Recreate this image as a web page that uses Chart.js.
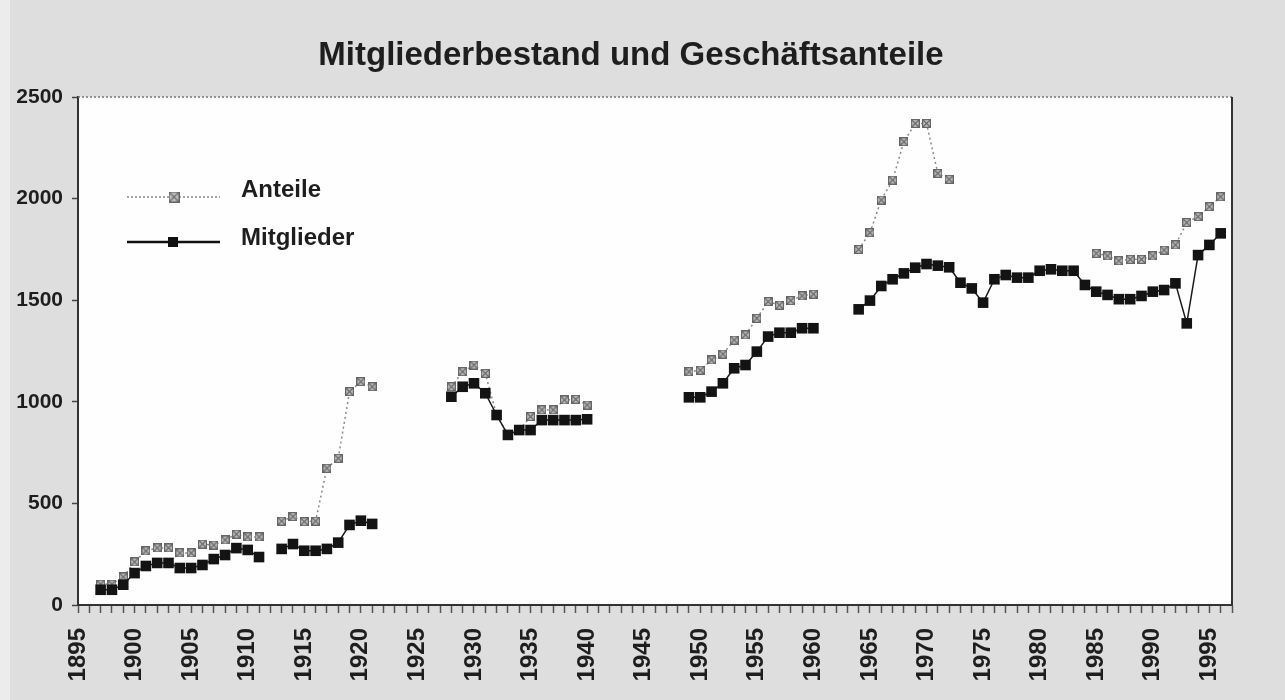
<!DOCTYPE html>
<html lang="de">
<head>
<meta charset="utf-8">
<title>Mitgliederbestand und Geschäftsanteile</title>
<script src="https://cdn.jsdelivr.net/npm/chart.js@4.4.1/dist/chart.umd.min.js"></script>
<style>
  html, body { margin: 0; padding: 0; background: #dedede; }
  #chart { display: block; }
</style>
</head>
<body>
<canvas id="chart" width="1285" height="700"></canvas>
<script>
// Jahre 1897 .. 1996 (null = keine Angabe)
const jahre = [];
for (let j = 1897; j <= 1996; j++) jahre.push(j);

const anteile = [
  103, 103, 138,                                            // 1897-1899
  212, 266, 281, 281, 256, 256, 300, 295, 320, 349,         // 1900-1909
  335, 335, null, 413, 435, 410, 413, 673, 722, 1050,       // 1910-1919
  1099, 1074, null, null, null, null, null, null, 1074, 1148, // 1920-1929
  1181, 1140, 935, 837, 861, 927, 960, 960, 1009, 1012,     // 1930-1939
  984, null, null, null, null, null, null, null, null, 1148, // 1940-1949
  1156, 1206, 1235, 1304, 1329, 1411, 1493, 1476, 1498, 1521, // 1950-1959
  1530, null, null, null, 1750, 1832, 1993, 2091, 2280, 2370, // 1960-1969
  2370, 2124, 2095, null, null, null, null, null, null, null, // 1970-1979
  null, null, null, null, null, 1731, 1718, 1694, 1701, 1701, // 1980-1989
  1718, 1747, 1772, 1882, 1911, 1960, 2009                  // 1990-1996
];

const mitglieder = [
  75, 75, 100,                                              // 1897-1899
  157, 192, 207, 207, 182, 182, 197, 226, 246, 280,         // 1900-1909
  271, 236, null, 276, 300, 267, 267, 276, 307, 394,        // 1910-1919
  415, 399, null, null, null, null, null, null, 1025, 1074, // 1920-1929
  1091, 1042, 935, 837, 861, 861, 910, 910, 910, 910,       // 1930-1939
  914, null, null, null, null, null, null, null, null, 1022, // 1940-1949
  1022, 1050, 1091, 1165, 1181, 1247, 1321, 1340, 1340, 1362, // 1950-1959
  1362, null, null, null, 1455, 1498, 1570, 1603, 1632, 1660, // 1960-1969
  1678, 1670, 1662, 1586, 1558, 1488, 1603, 1624, 1611, 1611, // 1970-1979
  1645, 1652, 1645, 1645, 1575, 1542, 1526, 1505, 1505, 1521, // 1980-1989
  1542, 1550, 1583, 1386, 1722, 1772, 1829                  // 1990-1996
];

const yTicks = [0, 500, 1000, 1500, 2000, 2500];
const titel = 'Mitgliederbestand und Geschäftsanteile';
const FONT = "'Liberation Sans', Arial, Helvetica, sans-serif";

// Marke für Anteile: graues Kästchen mit Kreuz
function marcaAnteile(size) {
  const c = document.createElement('canvas');
  c.width = size; c.height = size;
  const g = c.getContext('2d');
  g.fillStyle = '#c4c4c4';
  g.fillRect(0, 0, size, size);
  g.strokeStyle = '#666';
  g.lineWidth = 1.2;
  g.strokeRect(0.6, 0.6, size - 1.2, size - 1.2);
  g.beginPath();
  g.moveTo(1, 1); g.lineTo(size - 1, size - 1);
  g.moveTo(size - 1, 1); g.lineTo(1, size - 1);
  g.stroke();
  return c;
}
const markeA = marcaAnteile(9);
const markeLegende = marcaAnteile(11);

// Hintergrund, Rahmen, Titel und Legende
const deko = {
  id: 'deko',
  beforeDraw(chart) {
    const { ctx, chartArea: a } = chart;
    ctx.save();
    ctx.fillStyle = '#dedede';
    ctx.fillRect(0, 0, chart.width, chart.height);
    ctx.fillStyle = '#ececec';
    ctx.fillRect(0, 0, 10, chart.height);
    ctx.fillStyle = '#fefefe';
    ctx.fillRect(a.left, a.top, a.right - a.left, a.bottom - a.top);
    ctx.restore();
  },
  afterDraw(chart) {
    const { ctx, chartArea: a } = chart;
    ctx.save();
    // oberer Rand gepunktet, rechter Rand durchgezogen
    ctx.strokeStyle = '#777';
    ctx.lineWidth = 1.5;
    ctx.setLineDash([2, 2]);
    ctx.beginPath();
    ctx.moveTo(a.left, a.top); ctx.lineTo(a.right, a.top);
    ctx.stroke();
    ctx.setLineDash([]);
    ctx.strokeStyle = '#333';
    ctx.lineWidth = 2;
    ctx.beginPath();
    ctx.moveTo(a.right, a.top); ctx.lineTo(a.right, a.bottom);
    ctx.stroke();

    // Titel
    ctx.fillStyle = '#1e1e1e';
    ctx.font = 'bold 33px ' + FONT;
    ctx.textAlign = 'center';
    ctx.textBaseline = 'middle';
    ctx.fillText(titel, 631, 56);

    // Legende
    ctx.strokeStyle = '#888';
    ctx.lineWidth = 1.5;
    ctx.setLineDash([2, 2]);
    ctx.beginPath();
    ctx.moveTo(127, 197); ctx.lineTo(220, 197);
    ctx.stroke();
    ctx.setLineDash([]);
    ctx.drawImage(markeLegende, 174 - 5.5, 197 - 5.5);

    ctx.strokeStyle = '#111';
    ctx.lineWidth = 2.5;
    ctx.beginPath();
    ctx.moveTo(127, 242); ctx.lineTo(220, 242);
    ctx.stroke();
    ctx.fillStyle = '#111';
    ctx.fillRect(168, 237, 10, 10);

    ctx.fillStyle = '#1e1e1e';
    ctx.font = 'bold 24px ' + FONT;
    ctx.textAlign = 'left';
    ctx.fillText('Anteile', 241, 190);
    ctx.fillText('Mitglieder', 241, 238);
    ctx.restore();
  }
};

new Chart(document.getElementById('chart'), {
  type: 'line',
  data: {
    datasets: [
      {
        label: 'Mitglieder',
        data: jahre.map((j, i) => ({ x: j, y: mitglieder[i] })),
        borderColor: '#1a1a1a',
        borderWidth: 1.5,
        pointStyle: 'rect',
        pointRadius: 7.5,
        pointBackgroundColor: '#131313',
        pointBorderColor: '#131313',
        pointBorderWidth: 0,
        spanGaps: false
      },
      {
        label: 'Anteile',
        data: jahre.map((j, i) => ({ x: j, y: anteile[i] })),
        borderColor: '#8a8a8a',
        borderWidth: 1.5,
        borderDash: [2, 3],
        pointStyle: markeA,
        pointRadius: 5,
        spanGaps: false
      }
    ]
  },
  options: {
    responsive: false,
    animation: false,
    layout: { padding: { left: 0, right: 53, top: 97, bottom: 0 } },
    plugins: {
      legend: { display: false },
      title: { display: false },
      tooltip: { enabled: false }
    },
    scales: {
      x: {
        type: 'linear',
        min: 1895,
        max: 1997,
        ticks: {
          stepSize: 1,
          autoSkip: false,
          minRotation: 90,
          maxRotation: 90,
          padding: 15,
          color: '#1e1e1e',
          font: { family: FONT, size: 24, weight: 'bold' },
          callback: v => (v % 5 === 0 ? String(v) : '')
        },
        grid: { drawOnChartArea: false, tickLength: 8, tickColor: '#555', tickWidth: 1.5 },
        border: { color: '#333', width: 2 },
        afterFit: s => { s.height = 95; }
      },
      y: {
        min: 0,
        max: 2500,
        afterBuildTicks: s => { s.ticks = yTicks.map(v => ({ value: v })); },
        ticks: {
          padding: 9,
          color: '#1e1e1e',
          font: { family: FONT, size: 21, weight: 'bold' },
          callback: v => String(v)
        },
        grid: { drawOnChartArea: false, tickLength: 6, tickColor: '#444', tickWidth: 1.5 },
        border: { color: '#333', width: 2 },
        afterFit: s => { s.width = 78; }
      }
    }
  },
  plugins: [deko]
});
</script>
</body>
</html>
